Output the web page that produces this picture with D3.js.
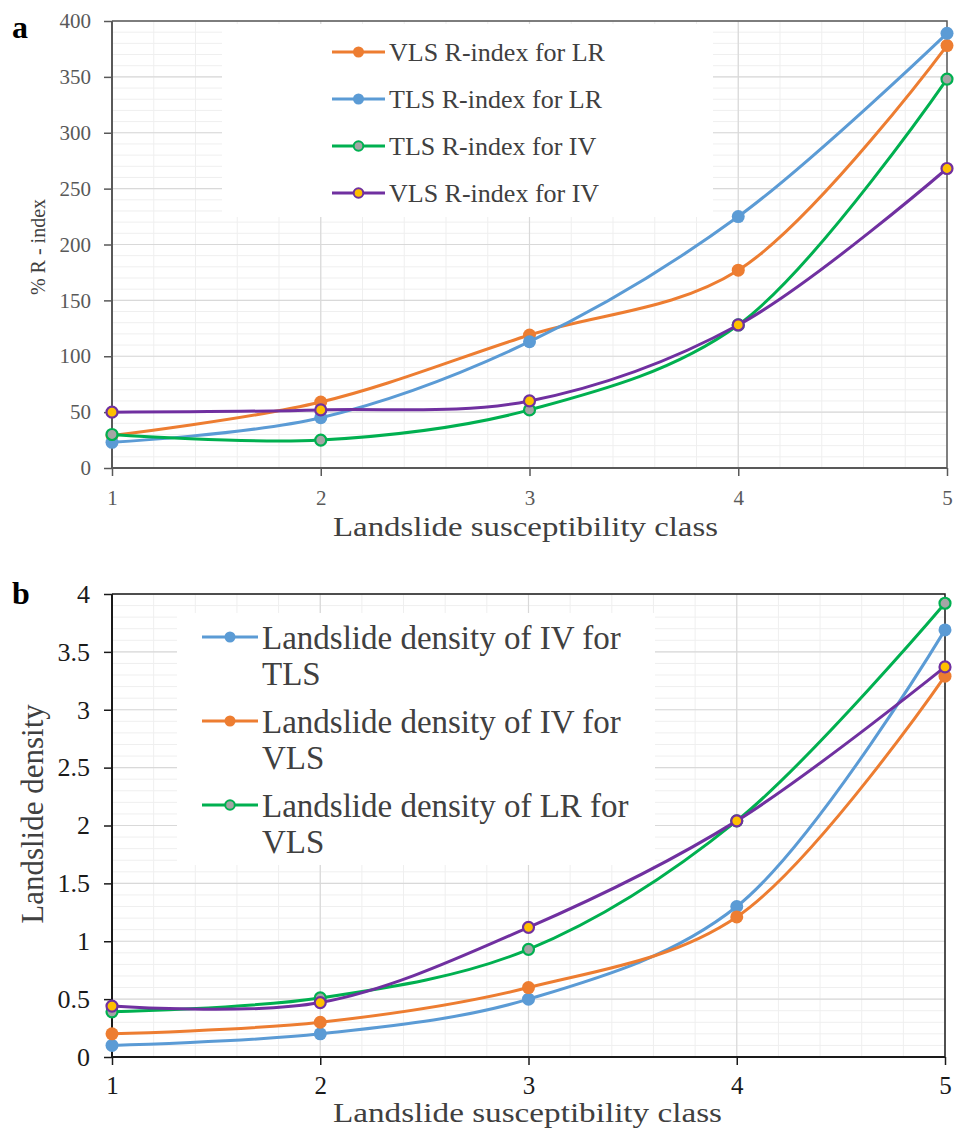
<!DOCTYPE html>
<html><head><meta charset="utf-8">
<script src="https://cdn.jsdelivr.net/npm/d3@7"></script>
<style>body{margin:0;background:#fff}svg{display:block}</style>
</head><body>
<script>
// ---------- DATA ----------
const classes = [1, 2, 3, 4, 5];

// Panel a: % R-index
const vlsRindexLR = [29, 59, 119, 177, 378];
const tlsRindexLR = [23, 45, 113, 225, 389];
const tlsRindexIV = [30, 25, 52, 128, 348];
const vlsRindexIV = [50, 52, 60, 128, 268];
const aTicks = [0, 50, 100, 150, 200, 250, 300, 350, 400];
const aLegend = ["VLS R-index for LR", "TLS R-index for LR", "TLS R-index for IV", "VLS R-index for IV"];

// Panel b: landslide density
const densIVTLS = [0.10, 0.20, 0.50, 1.30, 3.69];
const densIVVLS = [0.20, 0.30, 0.60, 1.21, 3.29];
const densLRVLS = [0.39, 0.51, 0.93, 2.04, 3.92];
const densLRTLS = [0.44, 0.47, 1.12, 2.04, 3.37];
const bTicks = [0, 0.5, 1, 1.5, 2, 2.5, 3, 3.5, 4];
const bTickLabels = ["0", "0.5", "1", "1.5", "2", "2.5", "3", "3.5", "4"];
const bLegend = [["Landslide density of IV for", "TLS"], ["Landslide density of IV for", "VLS"], ["Landslide density of LR for", "VLS"]];

const xTitle = "Landslide susceptibility class";

// ---------- STYLE ----------
const C = {orange:"#ED7D31", blue:"#5B9BD5", green:"#00B050", purple:"#7030A0", gray:"#A5A5A5", gold:"#FFC000"};
const serif = "'Liberation Serif','Times New Roman',serif";

const svg = d3.select("body").append("svg").attr("width", 961).attr("height", 1128);

function panel(opt) {
  const g = svg.append("g");
  const x = d3.scaleLinear().domain([1, 5]).range([opt.left, opt.right]);
  const y = d3.scaleLinear().domain([0, opt.ymax]).range([opt.bottom, opt.top]);

  // minor gridlines
  const grid = g.append("g");
  d3.range(0, opt.ymax + 1e-9, opt.yminor).forEach(v => {
    grid.append("line").attr("x1", opt.left).attr("x2", opt.right)
      .attr("y1", y(v)).attr("y2", y(v)).attr("stroke", "#efefef").attr("stroke-width", 1);
  });
  d3.range(1, 5.0001, 0.2).forEach(v => {
    grid.append("line").attr("y1", opt.top).attr("y2", opt.bottom)
      .attr("x1", x(v)).attr("x2", x(v)).attr("stroke", "#efefef").attr("stroke-width", 1);
  });
  // major gridlines
  opt.yticks.forEach(v => {
    grid.append("line").attr("x1", opt.left).attr("x2", opt.right)
      .attr("y1", y(v)).attr("y2", y(v)).attr("stroke", "#d9d9d9").attr("stroke-width", 1.2);
  });
  [2, 3, 4].forEach(v => {
    grid.append("line").attr("y1", opt.top).attr("y2", opt.bottom)
      .attr("x1", x(v)).attr("x2", x(v)).attr("stroke", "#d9d9d9").attr("stroke-width", 1.2);
  });

  // legend background
  g.append("rect").attr("x", opt.legBox[0]).attr("y", opt.legBox[1])
    .attr("width", opt.legBox[2]).attr("height", opt.legBox[3]).attr("fill", "#fff");

  // frame (top/right)
  g.append("path").attr("d", `M${opt.left},${opt.top}H${opt.right}V${opt.bottom}`)
    .attr("fill", "none").attr("stroke", opt.axisColor).attr("stroke-width", 1.5);

  // axes
  const ya = d3.axisLeft(y).tickValues(opt.yticks).tickSize(8).tickPadding(opt.ypad)
    .tickFormat((d, i) => opt.ylabels[i]);
  const yg = g.append("g").attr("transform", `translate(${opt.left},0)`).call(ya);
  const xa = d3.axisBottom(x).tickValues(classes).tickSize(8).tickPadding(opt.xpad).tickFormat(d3.format("d"));
  const xg = g.append("g").attr("transform", `translate(0,${opt.bottom})`).call(xa);
  [yg, xg].forEach(a => {
    a.select(".domain").attr("stroke", opt.axisColor).attr("stroke-width", 2);
    a.selectAll(".tick line").attr("stroke", opt.axisColor).attr("stroke-width", 1.5);
    a.selectAll(".tick text").attr("font-family", serif).attr("font-size", opt.tickSize)
      .attr("fill", opt.tickColor);
  });
  xg.selectAll(".tick text").attr("font-size", opt.xTickSize);
  yg.select(".domain").attr("d", `M-0,${opt.bottom}V${opt.top}`);
  xg.select(".domain").attr("d", `M${opt.left},0H${opt.right}`);

  // series
  const line = d3.line().x((d, i) => x(classes[i])).y(d => y(d)).curve(d3.curveCatmullRom.alpha(0.5));
  opt.series.forEach(s => {
    g.append("path").datum(s.values).attr("d", line).attr("fill", "none")
      .attr("stroke", s.color).attr("stroke-width", 3).attr("stroke-linejoin", "round");
    g.selectAll(null).data(s.values).enter().append("circle")
      .attr("cx", (d, i) => x(classes[i])).attr("cy", d => y(d))
      .attr("r", s.fill === s.color ? 6.5 : 5.5)
      .attr("fill", s.fill).attr("stroke", s.color).attr("stroke-width", s.fill === s.color ? 0 : 2.2);
  });

  // titles
  g.append("text").attr("x", opt.xTitleX).attr("y", opt.xTitleY)
    .attr("font-family", serif).attr("font-size", opt.xTitleSize)
    .attr("textLength", opt.xTitleLen).attr("lengthAdjust", "spacingAndGlyphs")
    .attr("fill", "#404040").text(xTitle);
  g.append("text").attr("transform", `translate(${opt.yTitleX},${opt.yTitleY}) rotate(-90)`)
    .attr("text-anchor", "middle").attr("font-family", serif).attr("font-size", opt.yTitleSize)
    .attr("fill", "#404040").text(opt.yTitle);
  g.append("text").attr("x", 12).attr("y", opt.letterY).attr("font-family", serif)
    .attr("font-weight", "bold").attr("font-size", 32).attr("fill", "#000").text(opt.letter);

  // legend entries
  opt.legend.forEach((L, i) => {
    const cy = opt.legY + i * opt.legStep;
    g.append("line").attr("x1", opt.legX).attr("x2", opt.legX + opt.legLen)
      .attr("y1", cy).attr("y2", cy).attr("stroke", L.color).attr("stroke-width", 3);
    g.append("circle").attr("cx", opt.legX + opt.legLen / 2).attr("cy", cy)
      .attr("r", L.fill === L.color ? 5.5 : 4.8).attr("fill", L.fill)
      .attr("stroke", L.color).attr("stroke-width", L.fill === L.color ? 0 : 2);
    const t = g.append("text").attr("x", opt.legX + opt.legLen + 4).attr("y", cy)
      .attr("font-family", serif).attr("font-size", opt.legSize).attr("fill", "#404040");
    L.text.forEach((s, j) => t.append("tspan").attr("x", opt.legX + opt.legLen + 4)
      .attr("dy", j === 0 ? "0.35em" : opt.legLine + "px").text(s));
  });
}

panel({
  left: 112, right: 947, top: 21, bottom: 468, ymax: 400, yminor: 10,
  yticks: aTicks, ylabels: aTicks.map(String), tickSize: 21, xTickSize: 21, tickColor: "#595959", axisColor: "#595959",
  xpad: 14, ypad: 13,
  legBox: [222, 24, 491, 193],
  series: [
    {values: vlsRindexLR, color: C.orange, fill: C.orange},
    {values: tlsRindexLR, color: C.blue, fill: C.blue},
    {values: tlsRindexIV, color: C.green, fill: C.gray},
    {values: vlsRindexIV, color: C.purple, fill: C.gold}
  ],
  xTitleX: 333, xTitleY: 536, xTitleSize: 27, xTitleLen: 385,
  yTitleX: 45, yTitleY: 247, yTitle: "% R - index", yTitleSize: 20,
  letter: "a", letterY: 38,
  legend: [
    {text: [aLegend[0]], color: C.orange, fill: C.orange},
    {text: [aLegend[1]], color: C.blue, fill: C.blue},
    {text: [aLegend[2]], color: C.green, fill: C.gray},
    {text: [aLegend[3]], color: C.purple, fill: C.gold}
  ],
  legX: 332, legLen: 53, legY: 52, legStep: 47, legSize: 26, legLine: 0
});

panel({
  left: 112, right: 945, top: 594, bottom: 1057, ymax: 4, yminor: 0.1,
  yticks: bTicks, ylabels: bTickLabels, tickSize: 26, xTickSize: 25, tickColor: "#1a1a1a", axisColor: "#1a1a1a",
  xpad: 11, ypad: 14,
  legBox: [177, 613, 478, 252],
  series: [
    {values: densIVTLS, color: C.blue, fill: C.blue},
    {values: densIVVLS, color: C.orange, fill: C.orange},
    {values: densLRVLS, color: C.green, fill: C.gray},
    {values: densLRTLS, color: C.purple, fill: C.gold}
  ],
  xTitleX: 333, xTitleY: 1122, xTitleSize: 27, xTitleLen: 389,
  yTitleX: 43, yTitleY: 814, yTitle: "Landslide density", yTitleSize: 31,
  letter: "b", letterY: 604,
  legend: [
    {text: bLegend[0], color: C.blue, fill: C.blue},
    {text: bLegend[1], color: C.orange, fill: C.orange},
    {text: bLegend[2], color: C.green, fill: C.gray}
  ],
  legX: 202, legLen: 56, legY: 637, legStep: 84, legSize: 33, legLine: 36
});
</script>
</body></html>
